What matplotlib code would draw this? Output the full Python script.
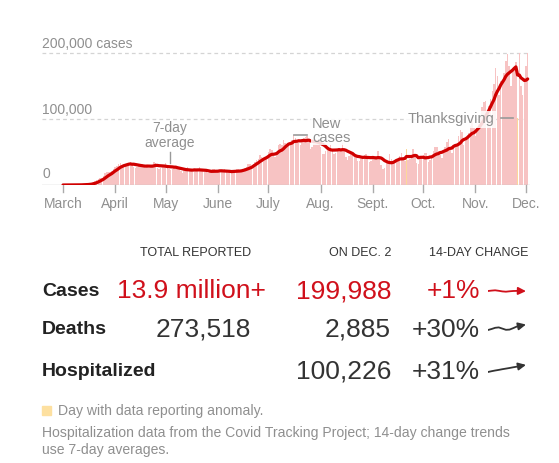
import numpy as np
import pandas as pd
import matplotlib
matplotlib.use("Agg")
import matplotlib.pyplot as plt
import matplotlib.dates as mdates

plt.rcParams['font.family'] = ['Liberation Sans', 'DejaVu Sans']

# ---------------- data ----------------
cases_mar = [8, 20, 24, 29, 70, 70, 100, 120, 180, 290, 400, 500, 700, 800, 1000, 1300,
             1900, 2700, 4500, 5800, 6900, 9000, 10500, 11000, 13000, 17500, 19000,
             20000, 19500, 21500, 25000]
cases_apr = [27000, 28500, 32000, 33500, 28000, 30000, 31000, 32000, 34000, 35000,
             30500, 28000, 26500, 27500, 29000, 31000, 32000, 28000, 26000, 27500,
             26500, 29000, 31000, 35000, 33000, 26000, 24500, 25500, 28000, 29500]
cases_may = [33000, 29000, 25000, 23000, 24500, 25500, 29000, 27500, 25000, 20500,
             18500, 22000, 21000, 27000, 25000, 24500, 19500, 21500, 21000, 22000,
             27000, 24000, 22500, 20000, 19000, 17500, 19500, 22500, 24500, 23500, 20000]
cases_jun = [19000, 21000, 20000, 21500, 24000, 22500, 18500, 17500, 18500, 21000,
             22000, 24500, 25000, 19500, 19500, 23000, 26000, 28000, 31500, 32000,
             27000, 32000, 35000, 38000, 40000, 45000, 43000, 40000, 41000, 44000]
cases_jul = [50000, 54000, 53000, 44000, 43000, 47000, 60000, 62000, 61000, 68000,
             63000, 58000, 62000, 65000, 68000, 76000, 71000, 64000, 63000, 61000,
             67000, 71000, 73000, 74000, 67000, 55000, 57000, 65000, 70000, 68000, 68000]
cases_aug = [58000, 47000, 47000, 51000, 53000, 56000, 61000, 55000, 47000, 48000,
             52000, 56000, 53000, 64000, 54000, 42000, 38000, 44000, 47000, 45000,
             48000, 45000, 36000, 36000, 39000, 44000, 46000, 47000, 43000, 35000, 36000]
cases_sep = [41000, 41000, 44000, 51000, 42000, 31000, 24000, 26000, 33000, 35000,
             47000, 40000, 34000, 33000, 38000, 40000, 44000, 48000, 41000, 37000,
             54000, 38000, 39000, 45000, 55000, 46000, 34000, 32000, 42000, 40000]
cases_oct = [45000, 49000, 48000, 35000, 38000, 43000, 51000, 57000, 57000, 52000,
             46000, 41000, 52000, 58000, 65000, 70000, 57000, 48000, 60000, 61000,
             62000, 75000, 83000, 80000, 61000, 66000, 73000, 79000, 90000, 99000, 86000]
cases_nov = [75000, 86000, 92000, 104000, 118000, 126000, 128000, 106000, 120000, 131000,
             142000, 153000, 177000, 165000, 136000, 158000, 159000, 170000, 188000, 199000,
             180000, 150000, 172000, 178000, 186000, 101000, 200000, 150000, 137000, 157000]
cases_dec = [180000, 199988]

anomaly_days = ["2020-09-21", "2020-11-26"]

month_ticks = ["2020-03-01", "2020-04-01", "2020-05-01", "2020-06-01", "2020-07-01",
               "2020-08-01", "2020-09-01", "2020-10-01", "2020-11-01", "2020-12-01"]
month_labels = ["March", "April", "May", "June", "July", "Aug.", "Sept.", "Oct.", "Nov.", "Dec."]

y_ticks = [0, 100000, 200000]
y_labels = ["0", "100,000", "200,000 cases"]

table_headers = ["TOTAL REPORTED", "ON DEC. 2", "14-DAY CHANGE"]
row_names = ["Cases", "Deaths", "Hospitalized"]
row_totals = ["13.9 million+", "273,518", ""]
row_on_day = ["199,988", "2,885", "100,226"]
row_change = ["+1%", "+30%", "+31%"]
trend_cases = [0.0, 0.4, 0.7, 0.2, -0.4, -0.7, -0.3, 0.0, 0.1, 0.0]
trend_deaths = [0.0, 1.0, 2.2, 2.6, 1.4, 0.2, 0.4, 1.8, 3.4, 4.2]
trend_hosp = [0.0, 0.8, 1.5, 2.1, 2.8, 3.4, 4.0, 4.7, 5.3, 6.0]

# ---------------- derived ----------------
daily = cases_mar + cases_apr + cases_may + cases_jun + cases_jul + cases_aug + \
        cases_sep + cases_oct + cases_nov + cases_dec
dates = pd.date_range("2020-03-01", periods=len(daily), freq="D")
s = pd.Series(daily, index=dates)
avg7 = s.rolling(7, min_periods=1).mean()
anom = pd.to_datetime(anomaly_days)

W, H = 559, 463
fig = plt.figure(figsize=(W / 100, H / 100), dpi=100)

def fx(px):
    return px / W

def fy(py):
    return 1 - py / H

RED = "#d0101b"
DARK = "#333333"
GRAY = "#8f8f8f"

# chart axes: pixel box x 42..530, y 40..185
ax = fig.add_axes([fx(42), fy(185), fx(530) - fx(42), fy(40) - fy(185)])
x0 = mdates.date2num(pd.Timestamp("2020-03-01"))
px_per_day = 1.6836
ax.set_xlim(x0 - 21 / px_per_day, x0 + 275 + 4 / px_per_day)
ax.set_ylim(0, 145 / 66 * 100000)
for sp in ax.spines.values():
    sp.set_visible(False)
ax.set_xticks([])
ax.set_yticks([])

colors = ["#fcd89a" if d in anom else "#f7c3c3" for d in dates]
ax.bar(dates, s.values, width=0.88, color=colors, linewidth=0, zorder=2)

# gridlines
for yv in y_ticks[1:]:
    ax.axhline(yv, color="#d4d4d4", lw=0.9, ls=(0, (3, 2.5)), zorder=1)
ax.axhline(0, color="#c8c8c8", lw=1.0, zorder=3)

ax.plot(dates, avg7.values, color="#d00000", lw=2.3, zorder=5, solid_capstyle="round")

# y labels
for yv, lab in zip(y_ticks, y_labels):
    ax.annotate(lab, xy=(0, yv), xycoords=("axes fraction", "data"),
                xytext=(0, 1.5 if yv else 3), textcoords="offset points",
                ha="left", va="bottom", fontsize=10, color=GRAY, zorder=6)

# month ticks and labels
for d, lab in zip(month_ticks, month_labels):
    dn = mdates.date2num(pd.Timestamp(d))
    ax.plot([dn, dn], [0, -0.045], transform=ax.get_xaxis_transform(),
            color="#aaaaaa", lw=1, clip_on=False)
    ax.annotate(lab, xy=(dn, 0), xycoords=("data", "axes fraction"),
                xytext=(0, -14), textcoords="offset points",
                ha="center", va="center", fontsize=10, color=GRAY)

# annotations
d7 = mdates.date2num(pd.Timestamp("2020-05-03 12:00"))
ax.plot([d7, d7], [33500, 50000], color="#999999", lw=1, zorder=6)
ax.annotate("7-day\naverage", xy=(d7, 50000), xytext=(0, 1.5), textcoords="offset points",
            ha="center", va="bottom", fontsize=10, color=GRAY, linespacing=1.05, zorder=6)

dn1 = mdates.date2num(pd.Timestamp("2020-07-16"))
dn2 = mdates.date2num(pd.Timestamp("2020-07-23 18:00"))
ax.plot([dn1, dn2], [75500, 75500], color="#999999", lw=1.2, zorder=6)
ax.annotate("New\ncases", xy=(mdates.date2num(pd.Timestamp("2020-07-26 20:00")), 61000),
            ha="left", va="bottom", fontsize=10.5, color=GRAY, linespacing=1.0, zorder=7,
            bbox=dict(boxstyle="square,pad=0.05", fc="white", ec="none", alpha=0.85))

tk1 = mdates.date2num(pd.Timestamp("2020-11-16"))
tk2 = mdates.date2num(pd.Timestamp("2020-11-23"))
ax.plot([tk1, tk2], [101000, 101000], color="#999999", lw=1.2, zorder=6)
ax.annotate("Thanksgiving", xy=(mdates.date2num(pd.Timestamp("2020-11-12 12:00")), 99500),
            ha="right", va="center", fontsize=10.5, color=GRAY, zorder=7,
            bbox=dict(boxstyle="square,pad=0.1", fc="white", ec="none", alpha=0.85))

# ---------------- table ----------------
fig.text(fx(251), fy(253), table_headers[0], ha="right", va="center", fontsize=9, color=DARK)
fig.text(fx(391), fy(253), table_headers[1], ha="right", va="center", fontsize=9, color=DARK)
fig.text(fx(528), fy(253), table_headers[2], ha="right", va="center", fontsize=9, color=DARK)

row_y = [291, 330, 372]
row_colors = [RED, DARK, DARK]
trends = [trend_cases, trend_deaths, trend_hosp]
for i in range(3):
    yy = row_y[i]
    c = row_colors[i]
    fig.text(fx(42), fy(yy), row_names[i], ha="left", va="center", fontsize=14,
             fontweight="bold", color="#222222")
    if row_totals[i]:
        if i == 0:
            fig.text(fx(117), fy(yy), row_totals[i], ha="left", va="center", fontsize=19, color=c)
        else:
            fig.text(fx(251), fy(yy), row_totals[i], ha="right", va="center", fontsize=19, color=c)
    fig.text(fx(391), fy(yy), row_on_day[i], ha="right", va="center", fontsize=19, color=c)
    fig.text(fx(480), fy(yy), row_change[i], ha="right", va="center", fontsize=19, color=c)
    # sparkline trend arrow
    sax = fig.add_axes([fx(488), fy(yy + 9), fx(526) - fx(488), fy(yy - 9) - fy(yy + 9)])
    sax.axis("off")
    t = trends[i]
    xs = np.arange(len(t))
    sax.set_xlim(0, len(t) - 1 + 1.6)
    sax.set_ylim(-9, 9)
    sax.plot(xs, t, color=c, lw=1.3)
    sax.annotate("", xy=(xs[-1] + 1.6, t[-1] + (t[-1] - t[-2]) * 1.6),
                 xytext=(xs[-1], t[-1]),
                 arrowprops=dict(arrowstyle="-|>,head_length=0.45,head_width=0.22",
                                 color=c, lw=1.3, shrinkA=0, shrinkB=0))

# ---------------- footer ----------------
fig.patches.append(plt.Rectangle((fx(42), fy(415)), fx(9), 9 / H, transform=fig.transFigure,
                                 color="#fde0a0", figure=fig))
fig.text(fx(58), fy(411), "Day with data reporting anomaly.", ha="left", va="center",
         fontsize=10.1, color=GRAY)
fig.text(fx(42), fy(433), "Hospitalization data from the Covid Tracking Project; 14-day change trends",
         ha="left", va="center", fontsize=10.1, color=GRAY)
fig.text(fx(42), fy(450), "use 7-day averages.", ha="left", va="center", fontsize=10.1, color=GRAY)

fig.savefig("out.png", dpi=100)
